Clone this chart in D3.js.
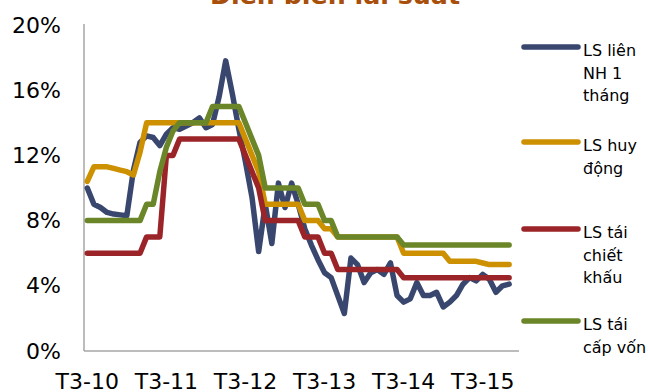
<!DOCTYPE html>
<html>
<head>
<meta charset="utf-8">
<script src="https://cdn.jsdelivr.net/npm/d3@7"></script>
<style>
  html, body { margin: 0; padding: 0; background: #ffffff; }
  svg { display: block; }
  text { font-family: "DejaVu Sans", Verdana, sans-serif; }
</style>
</head>
<body>
<svg id="chart" width="648" height="392"></svg>
<script>
// ---------- DATA ----------
const months = [
  "T3-10","T4-10","T5-10","T6-10","T7-10","T8-10","T9-10","T10-10","T11-10","T12-10","T1-11","T2-11",
  "T3-11","T4-11","T5-11","T6-11","T7-11","T8-11","T9-11","T10-11","T11-11","T12-11","T1-12","T2-12",
  "T3-12","T4-12","T5-12","T6-12","T7-12","T8-12","T9-12","T10-12","T11-12","T12-12","T1-13","T2-13",
  "T3-13","T4-13","T5-13","T6-13","T7-13","T8-13","T9-13","T10-13","T11-13","T12-13","T1-14","T2-14",
  "T3-14","T4-14","T5-14","T6-14","T7-14","T8-14","T9-14","T10-14","T11-14","T12-14","T1-15","T2-15",
  "T3-15","T4-15","T5-15","T6-15","T7-15","T8-15"
];
const tickLabels = ["T3-10","T3-11","T3-12","T3-13","T3-14","T3-15"];
const yTicks = [0, 4, 8, 12, 16, 20];

// LS liên NH 1 tháng
const interbank = [
  10.0, 9.0, 8.8, 8.5, 8.4, 8.35, 8.3, 11.1, 12.8, 13.2, 13.1, 12.6,
  13.3, 13.7, 13.6, 13.8, 14.0, 14.3, 13.7, 13.9, 15.6, 17.8, 15.8, 13.6,
  11.6, 9.4, 6.1, 9.0, 6.6, 10.3, 8.8, 10.3, 9.0, 7.5, 6.5, 5.6,
  4.8, 4.5, 3.4, 2.3, 5.7, 5.3, 4.2, 4.8, 5.0, 4.7, 5.4, 3.4,
  3.0, 3.2, 4.2, 3.4, 3.4, 3.6, 2.7, 3.0, 3.4, 4.1, 4.5, 4.3,
  4.7, 4.4, 3.6, 4.0, 4.1
];
// LS huy động
const deposit = [
  10.4, 11.3, 11.3, 11.3, 11.2, 11.1, 11.0, 10.8, 12.2, 14, 14, 14,
  14, 14, 14, 14, 14, 14, 14, 14, 14, 14, 14, 14,
  13, 12, 11, 9, 9, 9, 9, 9, 9, 8, 8, 8,
  7.5, 7.5, 7, 7, 7, 7, 7, 7, 7, 7, 7, 7,
  6, 6, 6, 6, 6, 6, 6, 5.5, 5.5, 5.5, 5.5, 5.5,
  5.4, 5.3, 5.3, 5.3, 5.3
];
// LS tái chiết khấu
const discount = [
  6, 6, 6, 6, 6, 6, 6, 6, 6, 7, 7, 7,
  12, 12, 13, 13, 13, 13, 13, 13, 13, 13, 13, 13,
  12, 11, 10, 8, 8, 8, 8, 8, 8, 7, 7, 7,
  6, 6, 5, 5, 5, 5, 5, 5, 5, 5, 5, 5,
  4.5, 4.5, 4.5, 4.5, 4.5, 4.5, 4.5, 4.5, 4.5, 4.5, 4.5, 4.5,
  4.5, 4.5, 4.5, 4.5, 4.5
];
// LS tái cấp vốn
const refinance = [
  8, 8, 8, 8, 8, 8, 8, 8, 8, 9, 9, 11,
  12.5, 13.5, 14, 14, 14, 14, 14, 15, 15, 15, 15, 15,
  14, 13, 12, 10, 10, 10, 10, 10, 10, 9, 9, 9,
  8, 8, 7, 7, 7, 7, 7, 7, 7, 7, 7, 7,
  6.5, 6.5, 6.5, 6.5, 6.5, 6.5, 6.5, 6.5, 6.5, 6.5, 6.5, 6.5,
  6.5, 6.5, 6.5, 6.5, 6.5
];

const seriesNames = [["LS liên", "NH 1", "tháng"], ["LS huy", "động"], ["LS tái", "chiết", "khấu"], ["LS tái", "cấp vốn"]];
const seriesColors = ["#39466e", "#cc9000", "#9b2428", "#6a8628"];
const seriesValues = [interbank, deposit, discount, refinance];
const legendY = [47, 142, 229, 321];

// ---------- CHART ----------
const svg = d3.select("#chart");
const plotL = 84, plotR = 519, plotT = 25, plotB = 351;

const x = d3.scaleBand().domain(months).range([plotL, plotR]).padding(0);
const y = d3.scaleLinear().domain([0, 20]).range([plotB, plotT]);
const cx = m => x(m) + x.bandwidth() / 2;

// title (mostly clipped above the view, as in the source image)
svg.append("text")
  .attr("x", 335).attr("y", 4)
  .attr("text-anchor", "middle")
  .attr("font-size", 24).attr("font-weight", "bold")
  .attr("fill", "#a84f0c")
  .attr("textLength", 250).attr("lengthAdjust", "spacingAndGlyphs")
  .text("Diễn biến lãi suất");

// y axis
const yAxis = d3.axisLeft(y).tickValues(yTicks).tickFormat(d => d + "%").tickSize(0).tickPadding(23);
const gy = svg.append("g").attr("transform", `translate(${plotL},0)`).call(yAxis);
gy.select(".domain").remove();
gy.selectAll("text").attr("font-size", 22).attr("fill", "#000")
  .attr("font-family", "'DejaVu Sans', Verdana, sans-serif");

// x axis
const xAxis = d3.axisBottom(x).tickValues(tickLabels).tickSize(0).tickPadding(0);
const gx = svg.append("g").attr("transform", `translate(0,${plotB})`).call(xAxis);
gx.select(".domain").remove();
gx.selectAll("text").attr("font-size", 22).attr("fill", "#000").attr("dy", null).attr("y", 37.5)
  .attr("font-family", "'DejaVu Sans', Verdana, sans-serif");

// axis lines
svg.append("line").attr("x1", plotL).attr("x2", plotL).attr("y1", y(20) - 1).attr("y2", plotB)
  .attr("stroke", "#a6a6a6").attr("stroke-width", 1.5);
svg.append("line").attr("x1", plotL).attr("x2", plotR).attr("y1", plotB).attr("y2", plotB)
  .attr("stroke", "#a6a6a6").attr("stroke-width", 1.5);

// lines
const line = d3.line().x((d, i) => cx(months[i])).y(d => y(d));
seriesValues.forEach((vals, k) => {
  svg.append("path").datum(vals)
    .attr("d", line)
    .attr("fill", "none")
    .attr("stroke", seriesColors[k])
    .attr("stroke-width", 5.5)
    .attr("stroke-linejoin", "round")
    .attr("stroke-linecap", "round");
});

// legend
seriesNames.forEach((lines, k) => {
  const ly = legendY[k];
  svg.append("line").attr("x1", 524).attr("x2", 578).attr("y1", ly).attr("y2", ly)
    .attr("stroke", seriesColors[k]).attr("stroke-width", 5.5).attr("stroke-linecap", "round");
  const t = svg.append("text").attr("x", 583).attr("y", ly + 9).attr("font-size", 16).attr("fill", "#000");
  lines.forEach((s, j) => {
    t.append("tspan").attr("x", 583).attr("dy", j === 0 ? 0 : 22.5).text(s);
  });
});
</script>
</body>
</html>
